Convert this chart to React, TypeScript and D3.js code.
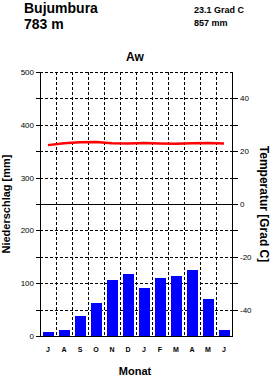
import { useEffect, useRef } from 'react';
import * as d3 from 'd3';

// Klimadiagramm Bujumbura (Juli - Juni)
const MONTHS = ['J', 'A', 'S', 'O', 'N', 'D', 'J', 'F', 'M', 'A', 'M', 'J'];
const PRECIP = [8, 11, 38, 62, 106, 118, 91, 110, 114, 125, 70, 11];
const TEMP = [22.3, 23.0, 23.4, 23.5, 23.0, 22.9, 23.1, 22.9, 22.8, 23.0, 23.1, 22.9];
const PRECIP_TICKS = [0, 100, 200, 300, 400, 500];
const TEMP_TICKS = [40, 20, 0, -20, -40];

const W = 271;
const H = 377;
const FONT = 'Liberation Sans, Arial, sans-serif';

export default function App() {
  const svgRef = useRef<SVGSVGElement>(null);

  useEffect(() => {
    if (!svgRef.current) return;
    const svg = d3.select(svgRef.current);
    svg.selectAll('*').remove();

    const left = 40, right = 232, top = 72, bottom = 336;

    const x = d3.scaleBand<number>().domain(d3.range(12)).range([left, right]).padding(0);
    const yP = d3.scaleLinear().domain([0, 500]).range([bottom, top]);
    const yT = d3.scaleLinear().domain([-50, 50]).range([bottom, top]);
    const c = (v: number) => Math.round(v) + 0.5; // crisp 1px lines

    // ── Grid ────────────────────────────────────────────────────────────────
    const grid = svg.append('g')
      .attr('stroke', '#000').attr('stroke-width', 1).attr('stroke-dasharray', '3,2');
    for (let v = 50; v <= 500; v += 50) {
      if (v === 250) continue;
      grid.append('line')
        .attr('x1', left).attr('x2', right)
        .attr('y1', c(yP(v))).attr('y2', c(yP(v)));
    }
    for (let i = 1; i < 12; i++) {
      grid.append('line')
        .attr('x1', c(x(i)!)).attr('x2', c(x(i)!))
        .attr('y1', top).attr('y2', bottom);
    }

    // ── Bars ────────────────────────────────────────────────────────────────
    const bw = x.bandwidth();
    svg.append('g').selectAll('rect')
      .data(PRECIP)
      .enter().append('rect')
      .attr('x', (_, i) => x(i)! + 3)
      .attr('width', bw - 5)
      .attr('y', d => Math.round(yP(d)))
      .attr('height', d => bottom - Math.round(yP(d)))
      .attr('fill', '#0000ff');

    // ── Axes ────────────────────────────────────────────────────────────────
    const ax = svg.append('g').attr('stroke', '#000').attr('stroke-width', 1);
    ax.append('line').attr('x1', c(left)).attr('x2', c(left)).attr('y1', top).attr('y2', bottom + 1);
    ax.append('line').attr('x1', c(right)).attr('x2', c(right)).attr('y1', top).attr('y2', bottom + 1);
    ax.append('line').attr('x1', left - 4).attr('x2', right + 1).attr('y1', c(bottom)).attr('y2', c(bottom));
    ax.append('line').attr('x1', left - 4).attr('x2', right + 6).attr('y1', c(yT(0))).attr('y2', c(yT(0)));

    for (let v = 0; v <= 500; v += 50) {
      ax.append('line').attr('x1', left - 4).attr('x2', left)
        .attr('y1', c(yP(v))).attr('y2', c(yP(v)));
    }
    for (let t = -40; t <= 40; t += 10) {
      ax.append('line').attr('x1', right).attr('x2', right + 6)
        .attr('y1', c(yT(t))).attr('y2', c(yT(t)));
    }

    svg.append('g').selectAll('text')
      .data(PRECIP_TICKS)
      .enter().append('text')
      .attr('x', 34).attr('y', d => yP(d) + 3)
      .attr('text-anchor', 'end')
      .attr('font-family', FONT).attr('font-size', 8)
      .text(d => d);

    svg.append('g').selectAll('text')
      .data(TEMP_TICKS)
      .enter().append('text')
      .attr('x', 240).attr('y', d => yT(d) + 3)
      .attr('font-family', FONT).attr('font-size', 8)
      .text(d => d);

    // ── Temperature line ────────────────────────────────────────────────────
    const line = d3.line<number>()
      .x((_, i) => x(i)! + bw / 2)
      .y(d => yT(d));
    svg.append('path')
      .datum(TEMP)
      .attr('d', line)
      .attr('fill', 'none')
      .attr('stroke', '#ff0000')
      .attr('stroke-width', 2.5);

    // ── Month labels ────────────────────────────────────────────────────────
    svg.append('g').selectAll('text')
      .data(MONTHS)
      .enter().append('text')
      .attr('x', (_, i) => x(i)! + bw / 2)
      .attr('y', 352)
      .attr('text-anchor', 'middle')
      .attr('font-family', FONT).attr('font-size', 7).attr('font-weight', 'bold')
      .text(d => d);

    // ── Titles ──────────────────────────────────────────────────────────────
    const txt = (s: string, tx: number, ty: number, size: number, anchor = 'start') =>
      svg.append('text').attr('x', tx).attr('y', ty)
        .attr('text-anchor', anchor)
        .attr('font-family', FONT).attr('font-size', size).attr('font-weight', 'bold')
        .text(s);

    txt('Bujumbura', 24, 13, 14);
    txt('783 m', 24, 29, 14);
    txt('23.1 Grad C', 194, 13, 9);
    txt('857 mm', 194, 26, 9);
    txt('Aw', 135, 61, 12, 'middle');
    txt('Monat', 135, 375, 11, 'middle');

    svg.append('text')
      .attr('transform', `translate(10, ${yT(0)}) rotate(-90)`)
      .attr('text-anchor', 'middle')
      .attr('font-family', FONT).attr('font-size', 11).attr('font-weight', 'bold')
      .text('Niederschlag [mm]');

    svg.append('text')
      .attr('transform', `translate(260, ${yT(0)}) rotate(90)`)
      .attr('text-anchor', 'middle')
      .attr('font-family', FONT).attr('font-size', 12).attr('font-weight', 'bold')
      .text('Temperatur [Grad C]');
  }, []);

  return (
    <svg
      ref={svgRef}
      width={W}
      height={H}
      style={{ position: 'absolute', left: 0, top: 0, background: '#fff' }}
    />
  );
}
